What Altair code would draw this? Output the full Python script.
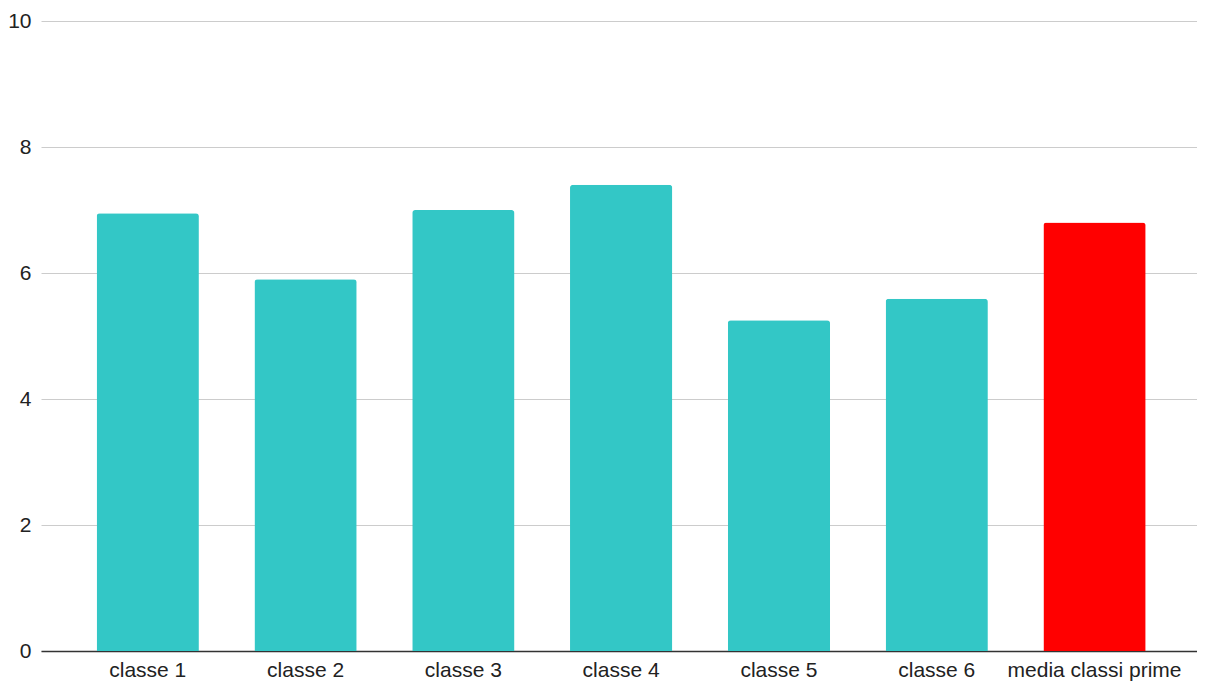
import altair as alt
import pandas as pd

categories = ["classe 1", "classe 2", "classe 3", "classe 4", "classe 5", "classe 6", "media classi prime"]
values = [6.95, 5.90, 7.00, 7.40, 5.25, 5.59, 6.80]
colors = ["#33c7c6", "#33c7c6", "#33c7c6", "#33c7c6", "#33c7c6", "#33c7c6", "#ff0000"]

df = pd.DataFrame({"cat": categories, "val": values, "col": colors})

chart = alt.Chart(df).mark_bar(cornerRadiusTopLeft=3, cornerRadiusTopRight=3).encode(
    x=alt.X("cat:N", sort=categories, title=None,
            scale=alt.Scale(paddingInner=0.352, paddingOuter=0.339, align=0.52),
            axis=alt.Axis(labelAngle=0, labelFont="Liberation Sans", labelFontSize=21,
                          labelColor="#222222", domainColor="#333333", domainWidth=1.5,
                          ticks=False, labelPadding=8, grid=False)),
    y=alt.Y("val:Q", title=None,
            scale=alt.Scale(domain=[0, 10]),
            axis=alt.Axis(values=[0, 2, 4, 6, 8, 10], labelFont="Liberation Sans", labelFontSize=21,
                          labelColor="#222222", domain=False, ticks=False, labelPadding=10,
                          gridColor="#cccccc", gridWidth=1)),
    color=alt.Color("col:N", scale=None),
).properties(
    width=1156, height=630,
    autosize=alt.AutoSizeParams(type="none"),
    padding={"left": 33, "top": 13, "right": 0, "bottom": 33},
).configure_view(stroke=None)

chart.save("out.html", embed_options={"renderer": "svg", "actions": False})
